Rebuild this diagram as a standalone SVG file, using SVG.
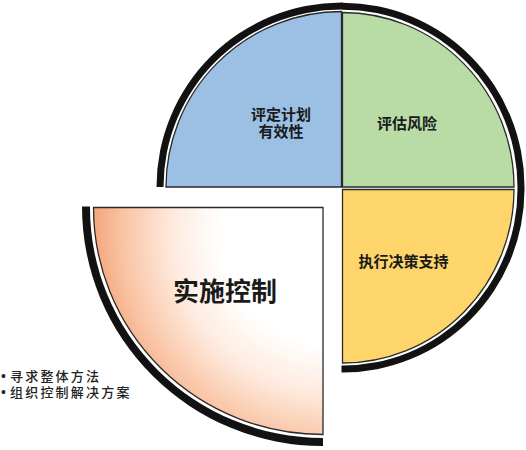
<svg xmlns="http://www.w3.org/2000/svg" width="526" height="450" viewBox="0 0 526 450">
  <defs>
    <radialGradient id="orangeGrad" gradientUnits="userSpaceOnUse" cx="330" cy="235" r="245">
      <stop offset="0" stop-color="#ffffff"/>
      <stop offset="0.45" stop-color="#ffffff"/>
      <stop offset="0.65" stop-color="#feeadd"/>
      <stop offset="0.85" stop-color="#f9c3a3"/>
      <stop offset="1" stop-color="#f39c70"/>
    </radialGradient>
  </defs>
  <style>
    .fill { stroke: #2a2a2a; stroke-width: 1.3; stroke-linejoin: miter; }
    .ring { fill: #121212; stroke: none; }
    .label { font-family: "Noto Sans CJK SC", "Noto Sans", sans-serif; font-weight: bold; fill: #1a1a1a; text-anchor: middle; }
    .bullet { font-family: "Noto Sans CJK SC", "Noto Sans", sans-serif; font-weight: 500; fill: #222222; font-size: 13px; letter-spacing: 2.2px; }
    .dot { font-family: "Liberation Sans", Arial, sans-serif; fill: #222222; font-size: 14px; }
  </style>
  <rect width="526" height="450" fill="#ffffff"/>

  <g id="node-plan">
    <path class="fill" fill="#9cc0e3" d="M341.5,187 H166 A175.5,175.5 0 0 1 341.5,11.5 Z"/>
    <path class="ring" d="M156.5,187 A185,184.5 0 0 1 341.5,2.5 H343 V9.5 H341.5 A178,177.5 0 0 0 163.5,187 Z"/>
    <text class="label" font-size="15" x="281" y="120">评定计划</text>
    <text class="label" font-size="15" x="281" y="136.5">有效性</text>
  </g>

  <g id="node-risk">
    <path class="fill" fill="#b9dca6" d="M342.5,187 V12.5 A171.5,174.5 0 0 1 514,187 Z"/>
    <path class="ring" d="M342.5,2.7 A182,184.3 0 0 1 524.5,187 V190 H517.5 V187 A175,177.3 0 0 0 342.5,9.7 Z"/>
    <text class="label" font-size="15" x="407" y="129">评估风险</text>
  </g>

  <g id="node-decision">
    <path class="fill" fill="#fdd56b" d="M342.5,189.5 H514 A171.5,173.5 0 0 1 342.5,363 Z"/>
    <path class="ring" d="M524.5,189.5 A182,183 0 0 1 341.5,372.5 V365.5 A175,176 0 0 0 517.5,189.5 Z"/>
    <text class="label" font-size="15" x="403.5" y="266.5">执行决策支持</text>
  </g>

  <g id="node-control">
    <path class="fill" fill="url(#orangeGrad)" d="M323,207.5 H93.5 A229.5,227 0 0 0 323,434.5 Z"/>
    <path class="ring" d="M82,206.5 A241,239.5 0 0 0 323,446 V438 A233,230.5 0 0 1 90,206.5 Z"/>
    <text class="label" font-size="26" x="225" y="301">实施控制</text>
  </g>

  <g id="notes">
    <text class="dot" x="1" y="381">•</text>
    <text class="bullet" x="10" y="381">寻求整体方法</text>
    <text class="dot" x="1" y="397">•</text>
    <text class="bullet" x="10" y="397">组织控制解决方案</text>
  </g>
</svg>
